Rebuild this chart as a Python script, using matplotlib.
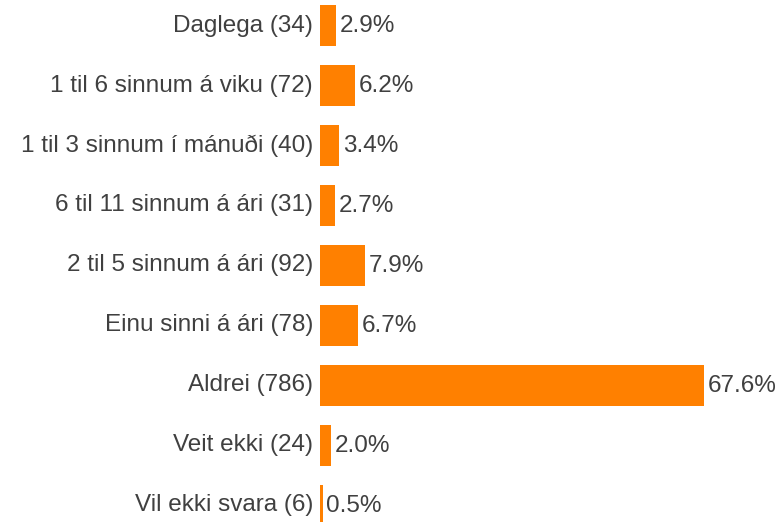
import matplotlib
matplotlib.use("Agg")
import matplotlib.pyplot as plt

# gogn lesin af myndinni
flokkar = ["Daglega (34)", "1 til 6 sinnum á viku (72)", "1 til 3 sinnum í mánuði (40)",
           "6 til 11 sinnum á ári (31)", "2 til 5 sinnum á ári (92)", "Einu sinni á ári (78)",
           "Aldrei (786)", "Veit ekki (24)", "Vil ekki svara (6)"]
hlutfall = [2.9, 6.2, 3.4, 2.7, 7.9, 6.7, 67.6, 2.0, 0.5]

plt.rcParams['font.family'] = ['Liberation Sans', 'DejaVu Sans']
litur_texta = "#404040"

fig = plt.figure(figsize=(7.82, 5.22), dpi=100)
ax = fig.add_axes([320/782, 0, 462/782, 1])

pos = list(range(len(flokkar)))
ax.barh(pos, hlutfall, height=0.68, color="#ff8000")

for i, v in enumerate(hlutfall):
    ax.annotate(f"{v:.1f}%", (v, i), xytext=(2.5, 0), textcoords="offset points",
                va="center", ha="left", fontsize=17.5, color=litur_texta)
    ax.annotate(flokkar[i], (0, i), xytext=(-5, 0), textcoords="offset points",
                va="center", ha="right", fontsize=17.5, color=litur_texta,
                annotation_clip=False)

ax.set_xlim(0, 462/5.68)
ax.set_ylim(8.275, -0.425)
ax.axis("off")

fig.savefig("out.png", dpi=100)
